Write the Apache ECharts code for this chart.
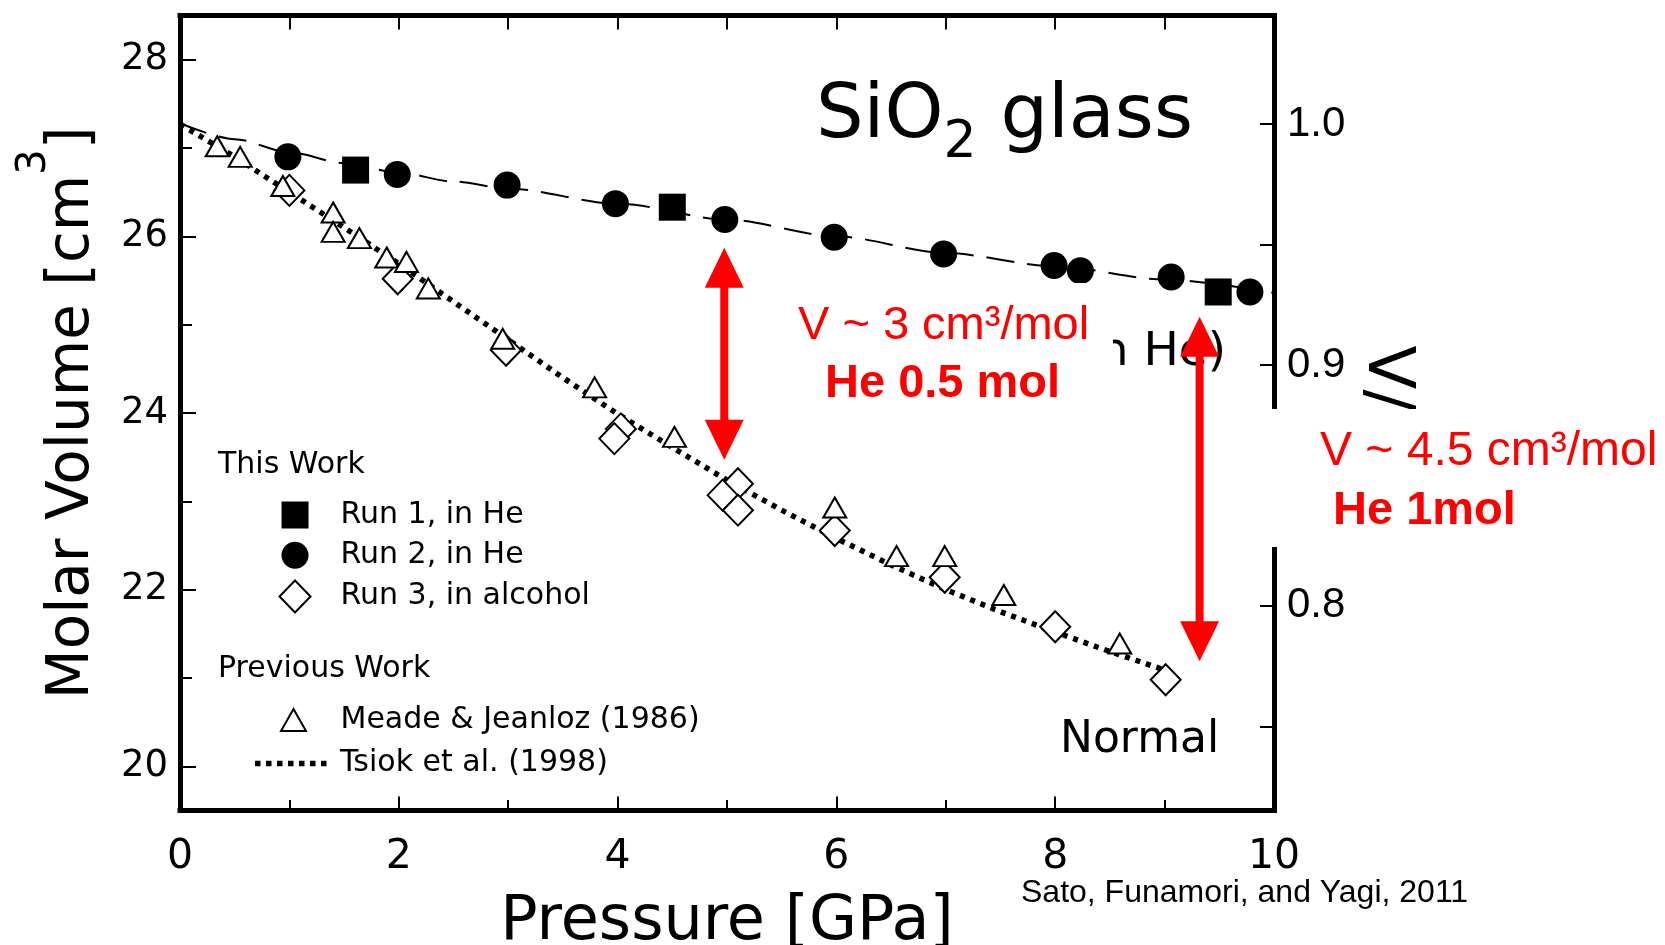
<!DOCTYPE html>
<html>
<head>
<meta charset="utf-8">
<script src="https://cdn.jsdelivr.net/npm/echarts@6/dist/echarts.min.js"></script>
<style>html,body{margin:0;padding:0;background:#fff;}#chart{width:1665px;height:945px;}</style>
</head>
<body>
<div id="chart"></div>
<script>
// ---------------- data ----------------
const run1P = [1.605, 4.50, 9.49];
const run1V = [26.75, 26.33, 25.37];
const run2P = [0.986, 1.986, 2.99, 3.98, 4.98, 5.98, 6.98, 7.99, 8.23, 9.06, 9.78];
const run2V = [26.90, 26.70, 26.58, 26.37, 26.19, 25.99, 25.80, 25.67, 25.61, 25.54, 25.37];
const run3P = [1.00, 1.99, 2.98, 4.03, 3.97, 5.10, 4.96, 5.10, 5.985, 6.99, 8.00, 9.01];
const run3V = [26.52, 25.52, 24.71, 23.82, 23.71, 23.20, 23.07, 22.90, 22.67, 22.14, 21.58, 20.98];
const meadeP = [0.34, 0.55, 0.94, 1.40, 1.40, 1.64, 1.89, 2.07, 2.27, 2.95, 3.79, 4.52, 5.985, 6.55, 6.99, 7.53, 8.59];
const meadeV = [27.02, 26.90, 26.57, 26.27, 26.05, 25.98, 25.76, 25.71, 25.41, 24.84, 24.29, 23.73, 22.93, 22.38, 22.38, 21.94, 21.39];
const tsiokP = [0, 0.5, 1, 1.5, 2, 2.5, 3, 3.5, 4, 4.5, 5, 5.5, 6, 6.5, 7, 7.5, 8, 8.5, 9];
const tsiokV = [27.27, 26.90, 26.50, 26.10, 25.69, 25.26, 24.83, 24.40, 23.99, 23.61, 23.24, 22.90, 22.58, 22.28, 22.00, 21.75, 21.52, 21.30, 21.09];
const fitP = [0, 0.5, 1, 1.5, 2, 2.5, 3, 4, 5, 6, 7, 8, 9, 10];
const fitV = [27.28, 27.10, 26.95, 26.83, 26.72, 26.62, 26.54, 26.37, 26.19, 26.00, 25.81, 25.66, 25.51, 25.36];
// red double arrows: pressure, upper tip volume, lower tip volume
const arrowP = [4.975, 9.32];
const arrowTopV = [25.87, 25.09];
const arrowBottomV = [23.47, 21.19];
// axes / ticks
const xMin = 0, xMax = 10, xLabelStep = 2, xTickStep = 1;
const yMin = 19.5, yMax = 28.5;
const V0 = 27.27;
const yLabelTicks = [20, 22, 24, 26, 28];
const yMinorTicks = [21, 23, 25, 27];
const ratioTicks = [0.75, 0.80, 0.85, 0.90, 0.95, 1.00];
const ratioLabels = [0.8, 0.9, 1.0];

// ---------------- chart ----------------
const zip = (a, b) => a.map((v, i) => [v, b[i]]);
const FONT = 'DejaVu Sans';
const chart = echarts.init(document.getElementById('chart'), null, {renderer: 'canvas'});

const squareIcon = 'path://M-2.5,-2.5M29.5,29.5M0,0L27,0L27,27L0,27Z';
const circleIcon = 'path://M-2.5,-2.5M29.5,29.5M0,13.5A13.5,13.5,0,1,1,27,13.5A13.5,13.5,0,1,1,0,13.5Z';
const diamondIcon = 'path://M16,0L32,16.5L16,33L0,16.5Z';
const triIcon = 'path://M12.5,0L25,22L0,22Z';
const dotIcon = 'path://M80,5M0,0h5.5v5.5h-5.5zM11,0h5.5v5.5h-5.5zM22,0h5.5v5.5h-5.5zM33,0h5.5v5.5h-5.5zM44,0h5.5v5.5h-5.5zM55,0h5.5v5.5h-5.5zM66,0h5.5v5.5h-5.5z';

const black = '#000';
const red = '#ff0000';

function arrowRender(params, api) {
  const t = api.coord([api.value(0), api.value(1)]);
  const b = api.coord([api.value(0), api.value(2)]);
  const cx = t[0], yt = t[1], yb = b[1];
  const hl = 40, hw = 19.5, sw = 4;
  return {
    type: 'group',
    children: [
      {type: 'polygon', shape: {points: [[cx, yt], [cx + hw, yt + hl], [cx - hw, yt + hl]]}, style: {fill: red}},
      {type: 'polygon', shape: {points: [[cx, yb], [cx + hw, yb - hl], [cx - hw, yb - hl]]}, style: {fill: red}},
      {type: 'rect', shape: {x: cx - sw, y: yt + hl - 1, width: 2 * sw, height: yb - yt - 2 * hl + 2}, style: {fill: red}}
    ]
  };
}

const frameLine = {show: true, onZero: false, lineStyle: {color: black, width: 5, cap: 'square'}};
const noLine = {show: false, onZero: false};

const option = {
  animation: false,
  backgroundColor: '#fff',
  grid: {left: 180, right: 391, top: 15.5, bottom: 134.5, containLabel: false, outerBoundsMode: 'none'},
  xAxis: [
    {
      type: 'value', position: 'bottom', min: xMin, max: xMax, interval: xLabelStep,
      axisLine: frameLine,
      axisTick: {show: true, inside: true, length: 14, lineStyle: {color: black, width: 2}},
      axisLabel: {show: true, margin: 26, fontFamily: FONT, fontSize: 41, color: black},
      splitLine: {show: false},
      name: 'Pressure [GPa]', nameLocation: 'middle', nameGap: 81, nameMoveOverlap: false,
      nameTextStyle: {fontFamily: FONT, fontSize: 62, color: black}
    },
    {
      type: 'value', position: 'bottom', min: xMin, max: xMax, interval: xTickStep,
      axisLine: noLine,
      axisTick: {show: true, inside: true, length: 10.5, lineStyle: {color: black, width: 2}},
      axisLabel: {show: false}, splitLine: {show: false}
    },
    {
      type: 'value', position: 'top', min: xMin, max: xMax, interval: xTickStep,
      axisLine: frameLine,
      axisTick: {show: true, inside: true, length: 14, lineStyle: {color: black, width: 2}},
      axisLabel: {show: false}, splitLine: {show: false}
    }
  ],
  yAxis: [
    {
      type: 'value', position: 'left', min: yMin, max: yMax,
      axisLine: frameLine,
      axisTick: {show: true, inside: true, length: 16, customValues: yLabelTicks, lineStyle: {color: black, width: 2}},
      axisLabel: {show: true, customValues: yLabelTicks, margin: 12, fontFamily: FONT, fontSize: 37, color: black},
      splitLine: {show: false},
      name: 'Molar Volume [cm{sup|3}]', nameLocation: 'middle', nameRotate: 90, nameGap: 49, nameMoveOverlap: false,
      nameTextStyle: {
        fontFamily: FONT, fontSize: 58, color: black, lineHeight: 116,
        rich: {sup: {fontFamily: FONT, fontSize: 40, lineHeight: 40, verticalAlign: 'top', color: black}}
      }
    },
    {
      type: 'value', position: 'left', min: yMin, max: yMax,
      axisLine: noLine,
      axisTick: {show: true, inside: true, length: 12, customValues: yMinorTicks, lineStyle: {color: black, width: 2}},
      axisLabel: {show: false}, splitLine: {show: false}
    },
    {
      type: 'value', position: 'right', min: yMin / V0, max: yMax / V0,
      axisLine: frameLine,
      axisTick: {show: true, inside: true, length: 14, customValues: ratioTicks, lineStyle: {color: black, width: 2}},
      axisLabel: {show: true, customValues: ratioLabels, margin: 13, fontFamily: 'Liberation Sans', fontSize: 42, color: black,
        formatter: v => Number(v).toFixed(1)},
      splitLine: {show: false},
      name: 'V/V₀', nameLocation: 'middle', nameRotate: -90, nameGap: 80, nameMoveOverlap: false,
      nameTextStyle: {fontFamily: FONT, fontSize: 64, color: black}
    }
  ],
  legend: [
    {
      orient: 'vertical', left: 278.5, top: 499, padding: 0, itemWidth: 81, itemHeight: 32, itemGap: 8.25,
      selectedMode: false, textStyle: {fontFamily: FONT, fontSize: 30, color: black},
      data: [
        {name: 'Run 1, in He', icon: squareIcon},
        {name: 'Run 2, in He', icon: circleIcon},
        {name: 'Run 3, in alcohol', icon: diamondIcon}
      ]
    },
    {
      orient: 'vertical', left: 280, top: 705, padding: 0, itemWidth: 84, itemHeight: 22,
      selectedMode: false, textStyle: {fontFamily: FONT, fontSize: 30, color: black},
      data: [{name: 'Meade & Jeanloz (1986)', icon: triIcon}]
    },
    {
      orient: 'vertical', left: 255, top: 748.5, padding: 0, itemWidth: 80, itemHeight: 10,
      selectedMode: false, textStyle: {fontFamily: FONT, fontSize: 30, color: black},
      data: [{name: 'Tsiok et al. (1998)', icon: dotIcon, itemStyle: {color: black, borderWidth: 0}}]
    }
  ],
  series: [
    {
      name: 'Tsiok et al. (1998)', type: 'line', data: zip(tsiokP, tsiokV), symbol: 'none',
      color: black, lineStyle: {color: black, width: 5.5, type: [5, 6], cap: 'butt'},
      itemStyle: {color: black}, z: 1, silent: true
    },
    {
      name: 'Fit (in He)', type: 'line', data: zip(fitP, fitV), symbol: 'none',
      smooth: 0.3, smoothMonotone: 'x', color: black,
      lineStyle: {color: black, width: 2, type: [28, 13]}, z: 1, silent: true
    },
    {
      name: 'Run 3, in alcohol', type: 'scatter', symbol: 'diamond', symbolSize: [30, 31],
      data: zip(run3P, run3V), itemStyle: {color: '#fff', borderColor: black, borderWidth: 2, opacity: 1}, z: 3, silent: true
    },
    {
      name: 'Meade & Jeanloz (1986)', type: 'scatter', symbol: 'triangle', symbolSize: [23, 20],
      data: zip(meadeP, meadeV), itemStyle: {color: '#fff', borderColor: black, borderWidth: 2, opacity: 1}, z: 4, silent: true
    },
    {
      name: 'Run 2, in He', type: 'scatter', symbol: 'circle', symbolSize: 27,
      data: zip(run2P, run2V), itemStyle: {color: black, opacity: 1}, z: 5, silent: true
    },
    {
      name: 'Run 1, in He', type: 'scatter', symbol: 'rect', symbolSize: 27,
      data: zip(run1P, run1V), itemStyle: {color: black, opacity: 1}, z: 5, silent: true
    },
    {
      name: 'arrows', type: 'custom', renderItem: arrowRender, silent: true, z: 6,
      data: arrowP.map((p, i) => [p, arrowTopV[i], arrowBottomV[i]])
    }
  ],
  graphic: [
    {type: 'text', x: 816, y: 80, z: 5, style: {
      text: '{m|SiO}{s|2}{m| glass}', fill: black, align: 'left', verticalAlign: 'top',
      rich: {
        m: {fontFamily: FONT, fontSize: 75, lineHeight: 75, verticalAlign: 'top', fill: black},
        s: {fontFamily: FONT, fontSize: 52, lineHeight: 89, verticalAlign: 'bottom', fill: black}
      }}},
    {type: 'text', x: 218, y: 465.5, z: 5, style: {text: 'This Work', fontFamily: FONT, fontSize: 30, fill: black, align: 'left', verticalAlign: 'middle'}},
    {type: 'text', x: 218, y: 669.5, z: 5, style: {text: 'Previous Work', fontFamily: FONT, fontSize: 30, fill: black, align: 'left', verticalAlign: 'middle'}},
    {type: 'text', x: 1060, y: 741, z: 5, style: {text: 'Normal', fontFamily: FONT, fontSize: 44, fill: black, align: 'left', verticalAlign: 'middle'}},
    {type: 'text', x: 1226, y: 353, z: 5, style: {text: '(in He)', fontFamily: FONT, fontSize: 47, fill: black, align: 'right', verticalAlign: 'middle'}},
    {type: 'rect', z: 10, shape: {x: 785, y: 283, width: 328, height: 130}, style: {fill: '#fff'}},
    {type: 'rect', z: 10, shape: {x: 1251, y: 409, width: 414, height: 138}, style: {fill: '#fff'}},
    {type: 'text', x: 798, y: 326, z: 12, style: {text: 'V ~ 3 cm³/mol', fontFamily: 'Liberation Sans', fontSize: 47, fill: red, align: 'left', verticalAlign: 'middle'}},
    {type: 'text', x: 825, y: 384, z: 12, style: {text: 'He 0.5 mol', fontFamily: 'Liberation Sans', fontWeight: 'bold', fontSize: 47, fill: red, align: 'left', verticalAlign: 'middle'}},
    {type: 'text', x: 1320, y: 452, z: 12, style: {text: 'V ~ 4.5 cm³/mol', fontFamily: 'Liberation Sans', fontSize: 48, fill: red, align: 'left', verticalAlign: 'middle'}},
    {type: 'text', x: 1333, y: 511.5, z: 12, style: {text: 'He 1mol', fontFamily: 'Liberation Sans', fontWeight: 'bold', fontSize: 47, fill: red, align: 'left', verticalAlign: 'middle'}},
    {type: 'text', x: 1021, y: 893.5, z: 12, style: {text: 'Sato, Funamori, and Yagi, 2011', fontFamily: 'Liberation Sans', fontSize: 32, fill: black, align: 'left', verticalAlign: 'middle'}}
  ]
};
chart.setOption(option);
</script>
</body>
</html>
